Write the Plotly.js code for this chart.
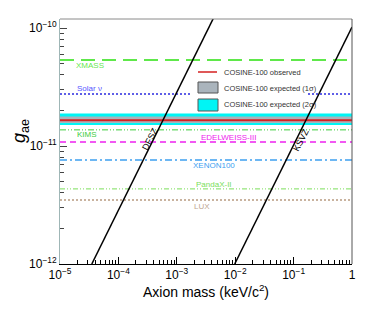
<!DOCTYPE html>
<html>
<head>
<meta charset="utf-8">
<script src="https://cdn.plot.ly/plotly-3.0.1.min.js"></script>
<style>html,body{margin:0;padding:0;background:#fff;}#chart{width:374px;height:316px;}</style>
</head>
<body>
<div id="chart"></div>
<script>
// ---- data ----
const massRange = [1e-5, 1];
const limitNames = ['XMASS', 'Solar ν', 'KIMS', 'EDELWEISS-III', 'XENON100', 'PandaX-II', 'LUX'];
const limitValues = [5.36e-11, 2.76e-11, 1.37e-11, 1.08e-11, 7.6e-12, 4.33e-12, 3.49e-12];
const cosineObserved = 1.656e-11;
const cosine1Sigma = [1.567e-11, 1.778e-11];
const cosine2Sigma = [1.507e-11, 1.886e-11];
const dfszMass = [3.5e-5, 4.2e-3];
const dfszG = [1e-12, 1.2e-10];
const ksvzMass = [9.8e-3, 1];
const ksvzG = [1e-12, 1.02e-10];
const xTickVals = [1e-5, 1e-4, 1e-3, 1e-2, 1e-1, 1];
const xTickText = ['10<sup>−5</sup>', '10<sup>−4</sup>', '10<sup>−3</sup>', '10<sup>−2</sup>', '10<sup>−1</sup>', '1'];
const yTickVals = [1e-12, 1e-11, 1e-10];
const yTickText = ['10<sup>−12</sup>', '10<sup>−11</sup>', '10<sup>−10</sup>'];
const legendLabels = ['COSINE-100 observed', 'COSINE-100 expected (1σ)', 'COSINE-100 expected (2σ)'];

// ---- styles ----
const limitStyles = [
  {color: '#5fe84a', dash: '14px,7px', width: 2},
  {color: '#2a2ae0', dash: '2px,2px', width: 1.5},
  {color: '#3bcc3b', dash: '6px,2px,1px,2px,1px,2px', width: 1},
  {color: '#ee22ee', dash: '6px,4px', width: 1.5},
  {color: '#3ea0f0', dash: '7px,3px,2px,3px', width: 1.5},
  {color: '#7ade5a', dash: '5px,2px,1px,2px,1px,2px', width: 1},
  {color: '#b89a80', dash: '2px,2px', width: 1.5}
];
const labelPos = [[90, 65], [89, 88], [87, 134], [228, 137], [214, 165], [214, 184], [202, 206]];
const labelColors = ['#66e84f', '#5555ff', '#3bcc3b', '#ee22ee', '#3ea0f0', '#7ade5a', '#c0a690'];

// pixel -> paper helpers (plot area x 60..352, y 19..264)
const L = 60, R = 352, T = 19, B = 264;
const px = x => (x - L) / (R - L);
const py = y => (B - y) / (B - T);

const traces = [];
const xs = [massRange[0], massRange[1]];
// 2 sigma band
traces.push({x: xs, y: [cosine2Sigma[0], cosine2Sigma[0]], mode: 'lines', line: {width: 0, color: '#00ffff'}, hoverinfo: 'skip'});
traces.push({x: xs, y: [cosine2Sigma[1], cosine2Sigma[1]], mode: 'lines', line: {width: 0, color: '#00ffff'}, fill: 'tonexty', fillcolor: '#00f5f5', hoverinfo: 'skip'});
// 1 sigma band
traces.push({x: xs, y: [cosine1Sigma[0], cosine1Sigma[0]], mode: 'lines', line: {width: 0, color: '#b0b8c0'}, hoverinfo: 'skip'});
traces.push({x: xs, y: [cosine1Sigma[1], cosine1Sigma[1]], mode: 'lines', line: {width: 0, color: '#b0b8c0'}, fill: 'tonexty', fillcolor: '#aab4bc', hoverinfo: 'skip'});
// observed
traces.push({x: xs, y: [cosineObserved, cosineObserved], mode: 'lines', line: {width: 2, color: '#d42020'}});
// limits
limitValues.forEach((v, i) => {
  traces.push({x: xs, y: [v, v], mode: 'lines', name: limitNames[i], line: limitStyles[i]});
});
// model lines
traces.push({x: dfszMass, y: dfszG, mode: 'lines', line: {color: '#000', width: 1.5}});
traces.push({x: ksvzMass, y: ksvzG, mode: 'lines', line: {color: '#000', width: 1.5}});

// minor ticks
const xMinor = [], yMinor = [];
for (let e = -5; e < 0; e++) for (let m = 2; m <= 9; m++) xMinor.push(m * Math.pow(10, e));
for (let e = -12; e < -9; e++) for (let m = 2; m <= 9; m++) yMinor.push(m * Math.pow(10, e));

const annotations = [];
limitNames.forEach((n, i) => {
  annotations.push({xref: 'paper', yref: 'paper', x: px(labelPos[i][0]), y: py(labelPos[i][1]), text: n, showarrow: false,
    xanchor: 'center', yanchor: 'middle', font: {family: 'Liberation Sans, Arial, sans-serif', size: 8, color: labelColors[i]}});
});
// legend texts
const legY = [72, 88, 104];
legendLabels.forEach((t, i) => {
  annotations.push({xref: 'paper', yref: 'paper', x: px(222), y: py(legY[i]), text: t, showarrow: false,
    xanchor: 'left', yanchor: 'middle', font: {family: 'Liberation Sans, Arial, sans-serif', size: 7.5, color: '#333'}});
});
// model labels
annotations.push({xref: 'paper', yref: 'paper', x: px(150), y: py(139), text: 'DFSZ', showarrow: false, textangle: -63,
  xanchor: 'center', yanchor: 'middle', font: {family: 'Liberation Sans, Arial, sans-serif', size: 9, color: '#000'}});
annotations.push({xref: 'paper', yref: 'paper', x: px(301), y: py(140), text: 'KSVZ', showarrow: false, textangle: -63,
  xanchor: 'center', yanchor: 'middle', font: {family: 'Liberation Sans, Arial, sans-serif', size: 9, color: '#000'}});
// y title
annotations.push({xref: 'paper', yref: 'paper', x: px(20), y: py(131), text: '<i>g</i><sub>ae</sub>', showarrow: false, textangle: -90,
  xanchor: 'center', yanchor: 'middle', font: {family: 'Liberation Sans, Arial, sans-serif', size: 18, color: '#000'}});

const shapes = [
  // legend background
  {type: 'rect', xref: 'paper', yref: 'paper', x0: px(192), x1: px(306), y0: py(112), y1: py(64), fillcolor: '#fff', line: {width: 0}, layer: 'above'},
  // legend symbols
  {type: 'line', xref: 'paper', yref: 'paper', x0: px(198), x1: px(217), y0: py(72), y1: py(72), line: {color: '#d42020', width: 1.5}, layer: 'above'},
  {type: 'rect', xref: 'paper', yref: 'paper', x0: px(198), x1: px(218), y0: py(93), y1: py(82), fillcolor: '#aab4bc', line: {color: '#555', width: 1}, layer: 'above'},
  {type: 'rect', xref: 'paper', yref: 'paper', x0: px(198), x1: px(218), y0: py(111), y1: py(99), fillcolor: '#00f5f5', line: {color: '#555', width: 1}, layer: 'above'},
  // frame top & right
  {type: 'line', xref: 'paper', yref: 'paper', x0: 0, x1: 1, y0: 1, y1: 1, line: {color: '#8a8a8a', width: 1}, layer: 'above'},
  {type: 'line', xref: 'paper', yref: 'paper', x0: 1, x1: 1, y0: 0, y1: 1, line: {color: '#555', width: 1}, layer: 'above'}
];

const tickFont = {family: 'Liberation Sans, Arial, sans-serif', size: 12, color: '#000'};
const layout = {
  width: 374, height: 316,
  margin: {l: L, r: 374 - R, t: T, b: 316 - B, pad: 0},
  paper_bgcolor: '#fff', plot_bgcolor: '#fff',
  showlegend: false,
  hovermode: false,
  xaxis: {
    type: 'log', range: [-5, 0], showgrid: false, zeroline: false,
    showline: true, linecolor: '#000', linewidth: 1,
    tickmode: 'array', tickvals: xTickVals, ticktext: xTickText,
    ticks: 'inside', ticklen: 7, tickcolor: '#000', tickfont: tickFont,
    minor: {tickmode: 'array', tickvals: xMinor, ticks: 'inside', ticklen: 4, tickcolor: '#000', showgrid: false},
    title: {text: 'Axion mass (keV/c<sup>2</sup>)', font: {family: 'Liberation Sans, Arial, sans-serif', size: 14, color: '#000'}, standoff: 5}
  },
  yaxis: {
    type: 'log', range: [-12, -9.9237], showgrid: false, zeroline: false,
    showline: true, linecolor: '#9fb6b6', linewidth: 1,
    tickmode: 'array', tickvals: yTickVals, ticktext: yTickText,
    ticks: 'inside', ticklen: 7, tickcolor: '#444', tickfont: tickFont,
    minor: {tickmode: 'array', tickvals: yMinor, ticks: 'inside', ticklen: 4, tickcolor: '#444', showgrid: false}
  },
  annotations: annotations,
  shapes: shapes
};

Plotly.newPlot('chart', traces, layout, {displayModeBar: false});
</script>
</body>
</html>
